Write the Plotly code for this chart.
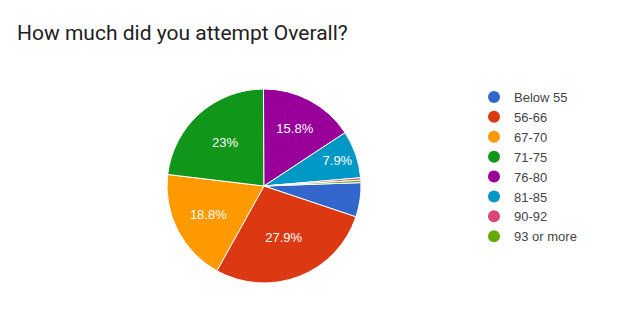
import plotly.graph_objects as go

labels = ["Below 55", "56-66", "67-70", "71-75", "76-80", "81-85", "90-92", "93 or more"]
values = [5.7, 27.9, 18.8, 23.0, 15.8, 7.9, 0.4, 0.4]
colors = ["#3366cc", "#dc3912", "#ff9900", "#109618", "#990099", "#0099c6", "#dd4477", "#66aa00"]
title = "How much did you attempt Overall?"

slice_text = [f"{v:g}%" if v >= 7 else "" for v in values]

fig = go.Figure()
fig.add_trace(go.Pie(
    labels=labels, values=values, sort=False, direction="clockwise", rotation=88,
    marker=dict(colors=colors, line=dict(color="white", width=1)),
    text=slice_text, textinfo="text", textposition="inside",
    insidetextorientation="horizontal",
    textfont=dict(family="Liberation Sans, Arial", size=13, color="white"),
    showlegend=False, hoverinfo="label+percent",
    domain=dict(x=[(264 - 97) / 640, (264 + 97) / 640], y=[(137 - 97) / 323, (137 + 97) / 323]),
))
for lab, col in zip(labels, colors):
    fig.add_trace(go.Scatter(x=[None], y=[None], mode="markers", name=lab,
                             marker=dict(symbol="circle", size=12, color=col)))

fig.update_layout(
    width=640, height=323, margin=dict(l=0, r=0, t=0, b=0),
    paper_bgcolor="white", plot_bgcolor="white",
    title=dict(text=title, x=17 / 640, xanchor="left", y=1 - 33 / 323, yanchor="middle",
               font=dict(family="Roboto, Arial", size=21, color="#212121")),
    xaxis=dict(visible=False), yaxis=dict(visible=False),
    legend=dict(x=474 / 640, xanchor="left", y=1 - 82 / 323, yanchor="top",
                font=dict(family="Liberation Sans, Arial", size=13, color="#444444"),
                bgcolor="rgba(0,0,0,0)", tracegroupgap=0),
)
fig.write_html("out.html")
